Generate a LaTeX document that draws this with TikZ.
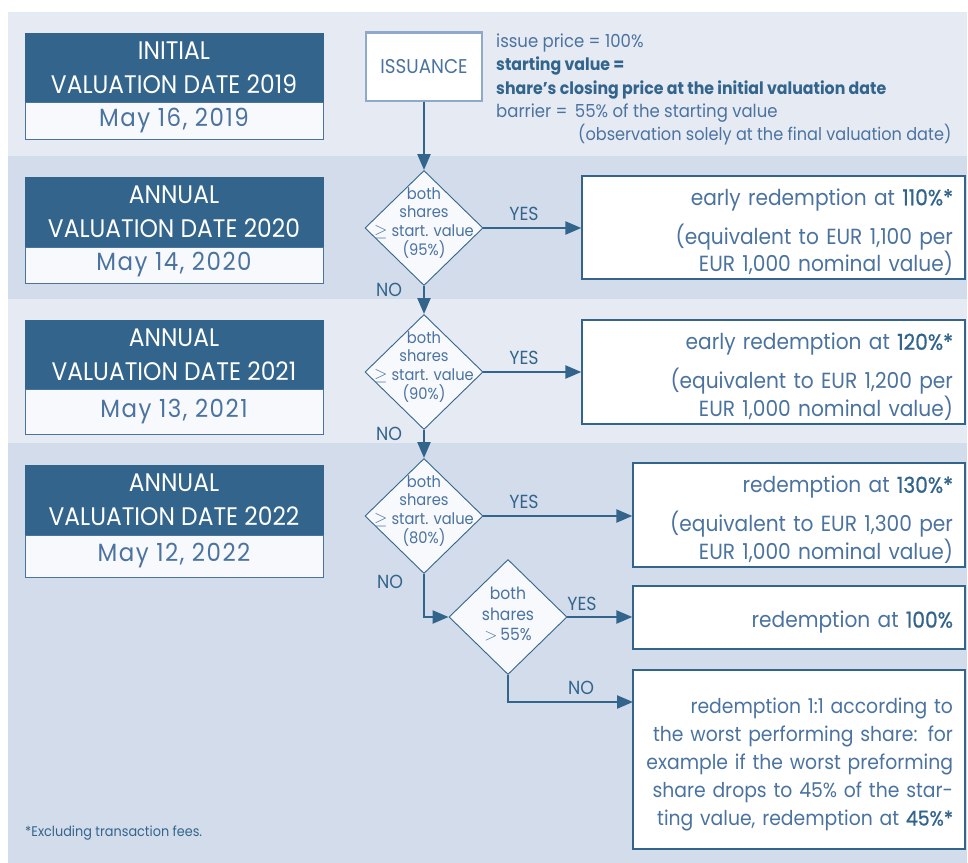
\documentclass[tikz,border=0pt]{standalone}
\usepackage{fontspec}
\setmainfont{Poppins}[FakeStretch=0.92]
\usetikzlibrary{shapes.geometric,arrows.meta,positioning}

\definecolor{bandlight}{HTML}{E6EAF3}
\definecolor{banddark}{HTML}{D3DCEA}
\definecolor{navy}{HTML}{33658C}
\definecolor{inkblue}{HTML}{4B73A0}
\definecolor{paper}{HTML}{F7F9FC}
\definecolor{issueline}{HTML}{8FA9CB}

\newcommand{\hdrfont}{\fontsize{25.5}{34}\selectfont}
\newcommand{\datefont}{\fontsize{25}{28}\selectfont\addfontfeatures{LetterSpace=6}}
\newcommand{\infofont}{\fontsize{18}{23.5}\selectfont}
\newcommand{\diafont}{\fontsize{16}{19}\selectfont}
\newcommand{\boxfont}{\fontsize{22}{26}\selectfont}
\newcommand{\lblfont}{\fontsize{19}{21}\selectfont}
\newcommand{\hi}[1]{{\color{navy}\addfontfeatures{FakeBold=0.8}#1}}
\newcommand{\infobold}[1]{{\color{navy}\fontsize{17.2}{23.5}\selectfont\bfseries #1}}
\newcommand{\lift}{\rule{0pt}{26bp}}

\tikzset{
	hdr/.style={fill=navy, draw=navy, text=white, minimum width=298bp, minimum height=70bp, inner sep=0pt, align=center, font=\hdrfont},
	datebox/.style={fill=paper, draw=inkblue, line width=0.8bp, minimum width=298bp, inner sep=0pt, text=inkblue, font=\datefont},
	dia/.style={diamond, draw=navy, fill=paper, line width=0.9bp, minimum width=118bp, minimum height=115bp, inner sep=0pt},
	diatext/.style={align=center, text=inkblue, font=\diafont, inner sep=0pt},
	resbox/.style={draw=navy, fill=white, line width=1.3bp, align=right, text=inkblue, font=\boxfont, inner xsep=12bp, inner ysep=0pt},
	arr/.style={draw=navy, line width=2.3bp, -{Triangle[length=16bp,width=13bp]}},
	lbl/.style={text=navy, font=\lblfont, inner sep=0pt},
}

\begin{document}
\begin{tikzpicture}[x=1bp,y=-1bp]
	
	\useasboundingbox (0,0) rectangle (968,863);
	
	\fill[bandlight] (8,12) rectangle (967,156);
	\fill[banddark] (8,156) rectangle (967,299);
	\fill[bandlight] (8,299) rectangle (967,443);
	\fill[banddark] (8,443) rectangle (967,863);
	
	\node[hdr] (h19) at (174,68) {INITIAL\\VALUATION DATE 2019};
	\node[datebox, minimum height=37bp] (d19) at (174,120.5) {May 16, 2019};
	
	\node[hdr] (h20) at (174,212) {ANNUAL\\VALUATION DATE 2020};
	\node[datebox, minimum height=36bp] (d20) at (174,265) {May 14, 2020};
	
	\node[hdr] (h21) at (174,355) {ANNUAL\\VALUATION DATE 2021};
	\node[datebox, minimum height=45bp] (d21) at (174,411.5) {May 13, 2021};
	
	\node[hdr] (h22) at (174,500) {ANNUAL\\VALUATION DATE 2022};
	\node[datebox, minimum height=42bp] (d22) at (174,556) {May 12, 2022};
	
	\node[draw=issueline, line width=2bp, fill=white, text=inkblue, minimum width=116bp, minimum height=68bp, inner sep=0pt, font=\fontsize{20}{22}\selectfont] (iss) at (424,66.5) {ISSUANCE};
	
	\node[anchor=north west, align=left, text=inkblue, font=\infofont, inner sep=0pt] (info) at (496,33.5) {issue price = 100\%\\
		\infobold{starting value =}\\
		\infobold{share’s closing price at the initial valuation date}\\
		barrier = \,55\% of the starting value\\
		\hspace*{82bp}{\fontsize{17.6}{23.5}\selectfont(observation solely at the final valuation date)}};
	
	\node[dia] (q1) at (424,228) {};
	\node[diatext] (q1t) at (424,223) {both\\shares\\$\geq$ start. value\\(95\%)};
	\node[dia] (q2) at (424,372) {};
	\node[diatext] (q2t) at (424,367) {both\\shares\\$\geq$ start. value\\(90\%)};
	\node[dia] (q3) at (424,516) {};
	\node[diatext] (q3t) at (424,511) {both\\shares\\$\geq$ start. value\\(80\%)};
	\node[dia] (q4) at (508,617) {};
	\node[diatext, font=\fontsize{17}{21}\selectfont] (q4t) at (508,614) {both\\shares\\$>$\,55\%};
	
	\node[resbox, minimum width=383bp, minimum height=103bp, text width=359bp] (r1) at (773.5,227.5) {\lift early redemption at \hi{110\%*}\\[12bp](equivalent to EUR 1,100 per\\EUR 1,000 nominal value)};
	\node[resbox, minimum width=383bp, minimum height=104bp, text width=359bp] (r2) at (773.5,372) {\lift early redemption at \hi{120\%*}\\[12bp](equivalent to EUR 1,200 per\\EUR 1,000 nominal value)};
	\node[resbox, minimum width=332bp, minimum height=104bp, text width=308bp] (r3) at (799,515) {\lift redemption at \hi{130\%*}\\[12bp](equivalent to EUR 1,300 per\\EUR 1,000 nominal value)};
	\node[resbox, minimum width=332bp, minimum height=63bp, text width=308bp] (r4) at (799,617.5) {\lift redemption at \hi{100\%}};
	\node[resbox, minimum width=332bp, minimum height=179bp, text width=308bp, font=\fontsize{20.5}{28}\selectfont] (r5) at (799,759.5) {\lift redemption 1:1 according to\\the worst performing share: for\\example if the worst preforming\\share drops to 45\% of the star-\\ting value, redemption at \hi{45\%*}};
	
	\coordinate (n5) at (633,702);
	
	\draw[arr] (iss) -- (q1);
	\draw[arr] (q1) -- (q2);
	\draw[arr] (q2) -- (q3);
	\draw[arr] (q3.south) |- (q4.west);
	\draw[arr] (q4.south) |- (n5);
	\draw[arr] (q1.east) -- (r1.west |- q1.east);
	\draw[arr] (q2.east) -- (r2.west |- q2.east);
	\draw[arr] (q3.east) -- (r3.west |- q3.east);
	\draw[arr] (q4.east) -- (r4.west |- q4.east);
	
	\node[lbl] (y1) at (524,214) {YES};
	\node[lbl] (y2) at (524,358) {YES};
	\node[lbl] (y3) at (524,502) {YES};
	\node[lbl] (y4) at (582,604) {YES};
	\node[lbl] (no1) at (389,290) {NO};
	\node[lbl] (no2) at (389,434) {NO};
	\node[lbl] (no3) at (390,582) {NO};
	\node[lbl] (no4) at (581,688) {NO};
	
	\node[anchor=west, text=navy, inner sep=0pt, font=\fontsize{14}{16}\selectfont] (fn) at (25,833) {*Excluding transaction fees.};
	
\end{tikzpicture}
\end{document}
